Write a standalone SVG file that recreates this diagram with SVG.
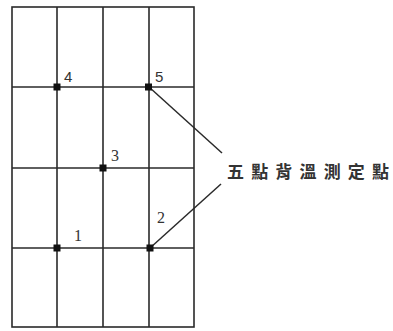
<svg xmlns="http://www.w3.org/2000/svg" width="393" height="331" viewBox="0 0 393 331">
<style>
.g{stroke:#2a2a2a;stroke-width:1.6;fill:none}
.c{stroke:#2a2a2a;stroke-width:1.5;fill:none}
.pt{fill:#111}
.n{font-family:"Liberation Serif",serif;font-size:16px;fill:#333}
.ns{font-family:"Liberation Sans",sans-serif;font-size:15px;fill:#333}
.lbl{font-family:"Liberation Serif","Noto Sans CJK TC",serif;font-size:17px;fill:#333;font-weight:bold}
</style>
<rect width="393" height="331" fill="#fff"/>
<g id="grid">
<rect class="g" x="12" y="7" width="182" height="320"/>
<line class="g" x1="57" y1="7" x2="57" y2="327"/>
<line class="g" x1="103" y1="7" x2="103" y2="327"/>
<line class="g" x1="149" y1="7" x2="149" y2="327"/>
<line class="g" x1="12" y1="87" x2="194" y2="87"/>
<line class="g" x1="12" y1="168" x2="194" y2="168"/>
<line class="g" x1="12" y1="248" x2="194" y2="248"/>
</g>
<g id="connectors">
<line class="c" x1="149" y1="87" x2="222" y2="153"/>
<line class="c" x1="150" y1="248" x2="221" y2="184"/>
</g>
<g id="p4"><rect class="pt" x="53.5" y="83.5" width="7" height="7"/><text class="ns" x="64" y="82">4</text></g>
<g id="p5"><rect class="pt" x="145" y="83.5" width="7" height="7"/><text class="ns" x="155" y="82">5</text></g>
<g id="p3"><rect class="pt" x="99.5" y="164.5" width="7" height="7"/><text class="n" x="111" y="161">3</text></g>
<g id="p1"><rect class="pt" x="53.5" y="244.5" width="7" height="7"/><text class="n" x="74" y="241">1</text></g>
<g id="p2"><rect class="pt" x="146.5" y="244.5" width="7" height="7"/><text class="n" x="157" y="223">2</text></g>
<g id="label"><text class="lbl" x="227" y="178" textLength="162" lengthAdjust="spacing">五點背溫測定點</text></g>
</svg>
